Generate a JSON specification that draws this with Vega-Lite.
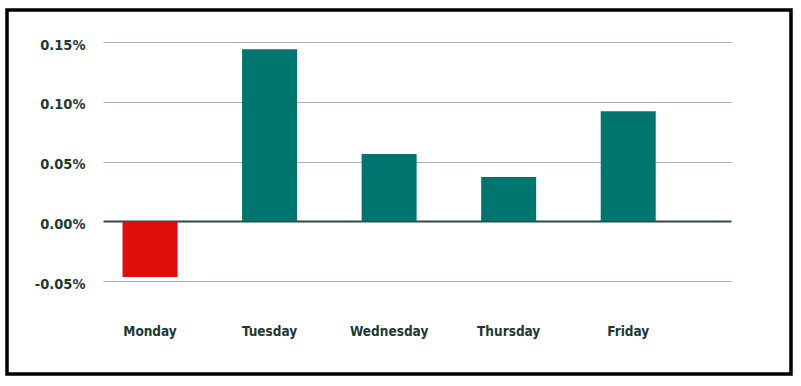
{
  "$schema": "https://vega.github.io/schema/vega-lite/v6.json",
  "width": 784,
  "height": 364,
  "autosize": {"type": "none"},
  "padding": {"left": 7, "top": 10, "right": 10, "bottom": 12},
  "background": "white",
  "config": {
    "view": {"stroke": "#000000", "strokeWidth": 3.5},
    "font": "DejaVu Sans Condensed, Roboto, sans-serif"
  },
  "data": {
    "values": [
      {"day": "Monday", "value": -0.000466},
      {"day": "Tuesday", "value": 0.001439},
      {"day": "Wednesday", "value": 0.000563},
      {"day": "Thursday", "value": 0.000371},
      {"day": "Friday", "value": 0.000921}
    ]
  },
  "mark": {"type": "bar"},
  "encoding": {
    "x": {
      "field": "day",
      "type": "nominal",
      "sort": null,
      "scale": {"range": [96, 724], "paddingInner": 0.54, "paddingOuter": 0.3965, "align": 0.206},
      "axis": {
        "title": null,
        "domain": false,
        "ticks": false,
        "tickSize": 0,
        "grid": false,
        "labelAngle": 0,
        "labelPadding": -43,
        "labelBaseline": "middle",
        "labelFont": "DejaVu Sans Condensed, Roboto, sans-serif",
        "labelFontSize": 13.5,
        "labelFontWeight": "bold",
        "labelColor": "#1b3a2f"
      }
    },
    "y": {
      "field": "value",
      "type": "quantitative",
      "scale": {"domain": [-0.0005, 0.0015], "range": [271, 32], "nice": false},
      "axis": {
        "title": null,
        "values": [-0.0005, 0, 0.0005, 0.001, 0.0015],
        "labelExpr": "replace(format(datum.value, '.2%'), '\u2212', '-')",
        "domain": false,
        "ticks": false,
        "tickSize": 0,
        "labelPadding": -78,
        "labelOffset": 3,
        "labelAlign": "right",
        "labelFont": "DejaVu Sans Condensed, Roboto, sans-serif",
        "labelFontSize": 14.5,
        "labelFontWeight": "bold",
        "labelColor": "#1b3a2f",
        "grid": true,
        "gridColor": {"condition": {"test": "datum.value === 0", "value": "#2b4a3f"}, "value": "#a3b3ad"},
        "gridWidth": {"condition": {"test": "datum.value === 0", "value": 2}, "value": 1.2}
      }
    },
    "color": {
      "condition": {"test": "datum.value < 0", "value": "#e00d0d"},
      "value": "#007570"
    }
  }
}
